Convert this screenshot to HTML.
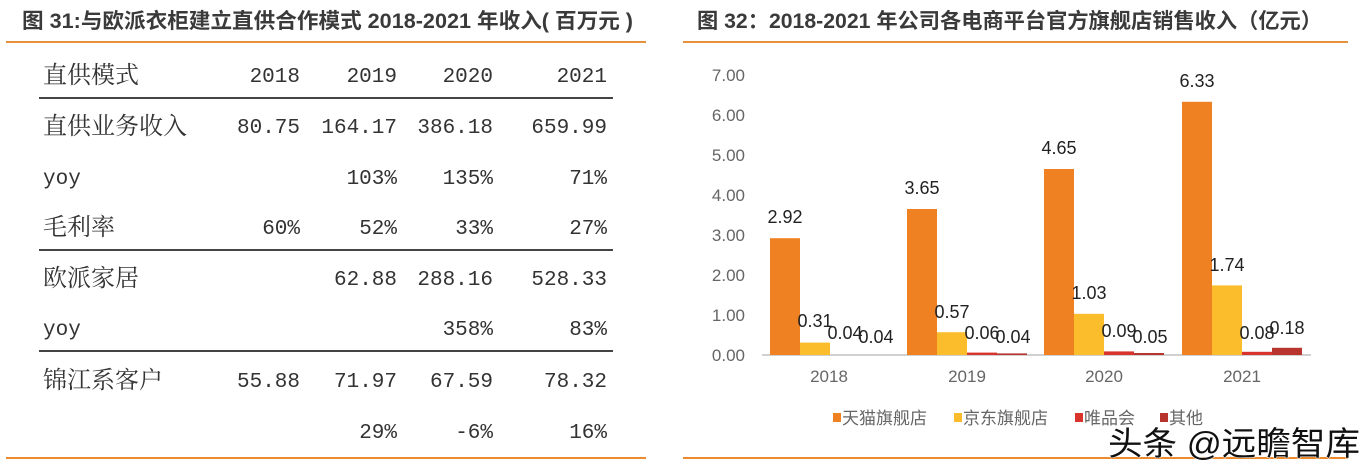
<!DOCTYPE html>
<html><head><meta charset="utf-8"><style>
html,body{margin:0;padding:0;background:#fff;}
body{width:1371px;height:473px;overflow:hidden;position:relative;}
</style></head><body>
<svg width="1371" height="473" xmlns="http://www.w3.org/2000/svg" style="position:absolute;left:0;top:0">
<g font-family="'Liberation Sans','Noto Sans CJK SC',sans-serif" font-weight="bold" font-size="21" fill="#3a3a3a">
<text x="22" y="28" textLength="611" lengthAdjust="spacingAndGlyphs">图 31:与欧派衣柜建立直供合作模式 2018-2021 年收入( 百万元 )</text>
<text x="697" y="28" textLength="625" lengthAdjust="spacingAndGlyphs">图 32：2018-2021 年公司各电商平台官方旗舰店销售收入（亿元）</text>
</g>
<line x1="6" y1="42" x2="646" y2="42" stroke="#E5913E" stroke-width="2"/>
<line x1="683" y1="42" x2="1348" y2="42" stroke="#E5913E" stroke-width="2"/>
<line x1="6" y1="458" x2="646" y2="458" stroke="#EE8A2E" stroke-width="2"/>
<line x1="683" y1="458" x2="1348" y2="458" stroke="#EE8A2E" stroke-width="2"/>
<g stroke="#444" stroke-width="2"><line x1="39" y1="98" x2="613" y2="98"/><line x1="39" y1="250" x2="613" y2="250"/><line x1="39" y1="351" x2="613" y2="351"/></g>
<g font-family="'Liberation Serif','Noto Serif CJK SC',serif" font-size="24" fill="#333">
<text x="43" y="83">直供模式</text><text x="43" y="134">直供业务收入</text>
<text x="43" y="235">毛利率</text><text x="43" y="286">欧派家居</text><text x="43" y="388">锦江系客户</text>
</g>
<g font-family="'Liberation Mono','Noto Serif CJK SC',monospace" font-size="21" fill="#333" text-anchor="end">
<text x="43" y="184" text-anchor="start">yoy</text><text x="43" y="335" text-anchor="start">yoy</text>
<text x="300" y="82">2018</text><text x="397" y="82">2019</text><text x="493" y="82">2020</text><text x="607" y="82">2021</text>
<text x="300" y="133">80.75</text><text x="397" y="133">164.17</text><text x="493" y="133">386.18</text><text x="607" y="133">659.99</text>
<text x="397" y="184">103%</text><text x="493" y="184">135%</text><text x="607" y="184">71%</text>
<text x="300" y="234">60%</text><text x="397" y="234">52%</text><text x="493" y="234">33%</text><text x="607" y="234">27%</text>
<text x="397" y="285">62.88</text><text x="493" y="285">288.16</text><text x="607" y="285">528.33</text>
<text x="493" y="335">358%</text><text x="607" y="335">83%</text>
<text x="300" y="387">55.88</text><text x="397" y="387">71.97</text><text x="493" y="387">67.59</text><text x="607" y="387">78.32</text>
<text x="397" y="438">29%</text><text x="493" y="438">-6%</text><text x="607" y="438">16%</text>
</g>
<g font-family="'Liberation Sans',sans-serif" font-size="17" fill="#666" text-anchor="end">
<text x="745" y="81">7.00</text><text x="745" y="121">6.00</text><text x="745" y="161">5.00</text><text x="745" y="201">4.00</text>
<text x="745" y="241">3.00</text><text x="745" y="281">2.00</text><text x="745" y="321">1.00</text><text x="745" y="361">0.00</text>
</g>
<line x1="762" y1="355" x2="1311" y2="355" stroke="#d0d0d0" stroke-width="2"/>
<g>
<rect x="770" y="238.2" width="30" height="116.8" fill="#F08122"/>
<rect x="800" y="342.6" width="30" height="12.4" fill="#FBBD2C"/>
<rect x="907" y="209" width="30" height="146" fill="#F08122"/>
<rect x="937" y="332.2" width="30" height="22.8" fill="#FBBD2C"/>
<rect x="967" y="352.6" width="30" height="2.4" fill="#D9342B"/>
<rect x="997" y="353.4" width="30" height="1.6" fill="#B8352E"/>
<rect x="1044" y="169" width="30" height="186" fill="#F08122"/>
<rect x="1074" y="313.8" width="30" height="41.2" fill="#FBBD2C"/>
<rect x="1104" y="351.4" width="30" height="3.6" fill="#D9342B"/>
<rect x="1134" y="353" width="30" height="2" fill="#B8352E"/>
<rect x="1182" y="101.8" width="30" height="253.2" fill="#F08122"/>
<rect x="1212" y="285.4" width="30" height="69.6" fill="#FBBD2C"/>
<rect x="1242" y="351.8" width="30" height="3.2" fill="#D9342B"/>
<rect x="1272" y="347.8" width="30" height="7.2" fill="#B8352E"/>
</g>
<g font-family="'Liberation Sans',sans-serif" font-size="18" fill="#222" text-anchor="middle">
<text x="785" y="223">2.92</text><text x="815" y="327">0.31</text><text x="845" y="339">0.04</text><text x="876" y="343">0.04</text>
<text x="922" y="194">3.65</text><text x="952" y="318">0.57</text><text x="982" y="339">0.06</text><text x="1013" y="343">0.04</text>
<text x="1059" y="154">4.65</text><text x="1089" y="299">1.03</text><text x="1119" y="337">0.09</text><text x="1150" y="343">0.05</text>
<text x="1197" y="87">6.33</text><text x="1227" y="271">1.74</text><text x="1257" y="339">0.08</text><text x="1287" y="334">0.18</text>
</g>
<g font-family="'Liberation Sans',sans-serif" font-size="17" fill="#666" text-anchor="middle">
<text x="829" y="382">2018</text><text x="967" y="382">2019</text><text x="1104" y="382">2020</text><text x="1242" y="382">2021</text>
</g>
<g font-family="'Liberation Sans','Noto Sans CJK SC',sans-serif" font-size="17" fill="#666">
<rect x="833" y="413" width="8" height="9" fill="#F08122"/><text x="842" y="424">天猫旗舰店</text>
<rect x="954" y="413" width="8" height="9" fill="#FBBD2C"/><text x="963" y="424">京东旗舰店</text>
<rect x="1075" y="413" width="8" height="9" fill="#D9342B"/><text x="1084" y="424">唯品会</text>
<rect x="1160" y="413" width="8" height="9" fill="#B8352E"/><text x="1169" y="424">其他</text>
</g>
<text x="1108" y="455" textLength="252" lengthAdjust="spacingAndGlyphs" font-family="'Liberation Sans','Noto Sans CJK SC',sans-serif" font-size="33" fill="#111" stroke="#fff" stroke-width="1" paint-order="stroke">头条 @远瞻智库</text>
</svg>
</body></html>
